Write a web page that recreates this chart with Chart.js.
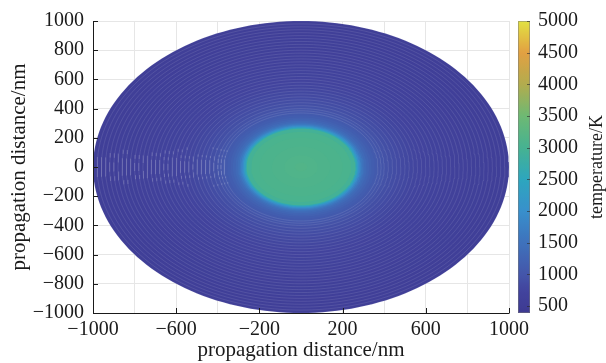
<!DOCTYPE html>
<html><head><meta charset="utf-8">
<script src="https://cdn.jsdelivr.net/npm/chart.js@4.4.1/dist/chart.umd.min.js"></script>
<style>html,body{margin:0;padding:0;background:#fff;overflow:hidden}#wrap{width:606px;height:363px}</style>
</head><body><div id="wrap"><canvas id="c" width="606" height="363"></canvas></div>
<script>
// ---- data ----
const xTickLabels = [-1000, -600, -200, 200, 600, 1000];
const yTickLabels = [-1000, -800, -600, -400, -200, 0, 200, 400, 600, 800, 1000];
const cbTickLabels = [500, 1000, 1500, 2000, 2500, 3000, 3500, 4000, 4500, 5000];
// ring radius (nm, normalised to the ellipse) and temperature (K)
const ringRadius = [1000, 980, 960, 940, 920, 900, 880, 860, 840, 820, 800, 780, 760, 740, 720, 700,
  680, 660, 640, 620, 600, 580, 560, 540, 520, 500, 480, 460, 440, 420, 400, 385, 370, 355, 340, 328,
  316, 306, 298, 290, 283, 276, 269, 262, 240, 200, 140, 80, 30];
const ringTemperature = [560, 565, 570, 575, 580, 590, 595, 600, 610, 615, 620, 630, 640, 650, 660, 670,
  680, 690, 700, 715, 730, 745, 760, 780, 800, 820, 845, 870, 900, 940, 980, 1020, 1070, 1130, 1200, 1270,
  1350, 1450, 1580, 1750, 1950, 2250, 2600, 2950, 3050, 3080, 3100, 3120, 3150];
const cbMin = 390, cbMax = 5000;

// ---- colour map ----
const cmapStops = [
  [400, [62, 58, 146]], [750, [66, 68, 158]], [1000, [68, 86, 170]], [1500, [62, 114, 188]],
  [2000, [56, 144, 204]], [2500, [45, 166, 190]], [3000, [70, 178, 145]], [3500, [110, 185, 115]],
  [4000, [178, 172, 78]], [4500, [226, 160, 66]], [5000, [226, 226, 66]]];
function cmap(t, a) {
  if (t <= cmapStops[0][0]) { const c = cmapStops[0][1]; return `rgba(${c[0]},${c[1]},${c[2]},${a ?? 1})`; }
  for (let i = 1; i < cmapStops.length; i++) {
    if (t <= cmapStops[i][0]) {
      const [t0, c0] = cmapStops[i - 1], [t1, c1] = cmapStops[i];
      const f = (t - t0) / (t1 - t0);
      const c = c0.map((v, k) => Math.round(v + (c1[k] - v) * f));
      return `rgba(${c[0]},${c[1]},${c[2]},${a ?? 1})`;
    }
  }
  const c = cmapStops[cmapStops.length - 1][1];
  return `rgba(${c[0]},${c[1]},${c[2]},${a ?? 1})`;
}

function ringPoints(r) {
  const pts = [];
  for (let d = 0; d <= 360; d += 2) {
    const th = d * Math.PI / 180;
    pts.push({ x: r * Math.cos(th), y: r * Math.sin(th) });
  }
  return pts;
}

const datasets = ringRadius.map((r, i) => ({
  data: ringPoints(r),
  showLine: true,
  fill: 'shape',
  backgroundColor: cmap(ringTemperature[i]),
  borderColor: r > 355 ? 'rgba(255,255,255,0.13)' : cmap(ringTemperature[i]),
  borderWidth: r > 355 ? 0.8 : 0,
  pointRadius: 0,
  pointHoverRadius: 0,
  order: -i   // larger ring drawn first (underneath)
}));

const fmt = v => String(v).replace('-', '\u2212');
const FONT = 'Liberation Serif';
const noVPad = s => { s.paddingTop = 0; s.paddingBottom = 0; };

const decor = {
  id: 'decor',
  afterDraw(chart) {
    const { ctx, chartArea: ca, scales: { x, y, cb } } = chart;
    ctx.save();
    ctx.strokeStyle = '#1a1a1a'; ctx.lineWidth = 1;
    ctx.beginPath();
    ctx.moveTo(ca.left + 0.5, ca.top); ctx.lineTo(ca.left + 0.5, ca.bottom + 0.5);
    ctx.lineTo(ca.right + 0.5, ca.bottom + 0.5);
    xTickLabels.forEach(v => { const p = Math.round(x.getPixelForValue(v)) + 0.5; ctx.moveTo(p, ca.bottom); ctx.lineTo(p, ca.bottom - 5); });
    yTickLabels.forEach(v => { const p = Math.round(y.getPixelForValue(v)) + 0.5; ctx.moveTo(ca.left, p); ctx.lineTo(ca.left + 5, p); });
    ctx.stroke();
    // colour bar
    const bx = cb.left + 9, bw = 12, top = cb.getPixelForValue(cbMax), bot = cb.getPixelForValue(cbMin);
    const g = ctx.createLinearGradient(0, bot, 0, top);
    for (let t = cbMin; t <= cbMax; t += 50) g.addColorStop((t - cbMin) / (cbMax - cbMin), cmap(t));
    ctx.fillStyle = g;
    ctx.fillRect(bx, top, bw, bot - top);
    ctx.strokeStyle = 'rgba(120,120,120,0.5)'; ctx.lineWidth = 1;
    ctx.strokeRect(bx + 0.5, top + 0.5, bw - 1, bot - top - 1);
    ctx.strokeStyle = 'rgba(40,40,40,0.6)';
    ctx.beginPath();
    cbTickLabels.forEach(v => { const p = Math.round(cb.getPixelForValue(v)) + 0.5; ctx.moveTo(bx + bw - 3, p); ctx.lineTo(bx + bw, p); });
    ctx.stroke();
    ctx.fillStyle = '#1a1a1a';
    ctx.font = `18px "${FONT}"`;
    ctx.textAlign = 'center'; ctx.textBaseline = 'middle';
    ctx.translate(597, (ca.top + ca.bottom) / 2);
    ctx.rotate(-Math.PI / 2);
    ctx.fillText('temperature/K', 0, 0);
    ctx.restore();
  }
};

new Chart(document.getElementById('c'), {
  type: 'scatter',
  data: { datasets },
  options: {
    responsive: false, animation: false, devicePixelRatio: 1,
    layout: { padding: { left: 0, right: 25, top: 21, bottom: 0 } },
    plugins: { legend: { display: false }, tooltip: { enabled: false } },
    events: [],
    scales: {
      x: {
        type: 'linear', min: -1000, max: 1000, position: 'bottom',
        afterFit: s => { s.height = 50; s.paddingLeft = 0; s.paddingRight = 0; },
        grid: { color: '#e6e6e6', drawTicks: false },
        border: { display: false },
        ticks: { stepSize: 200, autoSkip: false, maxRotation: 0, padding: 5, color: '#1a1a1a',
          font: { family: FONT, size: 20 },
          callback: v => xTickLabels.includes(v) ? fmt(v) : '' },
        title: { display: true, text: 'propagation distance/nm', color: '#1a1a1a',
          font: { family: FONT, size: 21 }, padding: { top: 0, bottom: 0 } }
      },
      y: {
        type: 'linear', min: -1000, max: 1000, position: 'left',
        afterFit: s => { s.width = 93; noVPad(s); },
        grid: { color: '#e6e6e6', drawTicks: false },
        border: { display: false },
        ticks: { stepSize: 200, autoSkip: false, padding: 9, color: '#1a1a1a',
          font: { family: FONT, size: 20 },
          callback: v => yTickLabels.includes(v) ? fmt(v) : '' },
        title: { display: true, text: 'propagation distance/nm', color: '#1a1a1a',
          font: { family: FONT, size: 21 }, padding: { top: 7, bottom: 0 } }
      },
      cb: {
        type: 'linear', min: cbMin, max: cbMax, position: 'right',
        afterFit: s => { s.width = 72; noVPad(s); },
        afterBuildTicks: s => { s.ticks = cbTickLabels.map(v => ({ value: v })); },
        grid: { display: false, drawTicks: false },
        border: { display: false },
        ticks: { padding: 29, color: '#1a1a1a', font: { family: FONT, size: 20 }, callback: v => String(v) }
      }
    }
  },
  plugins: [decor]
});
</script>
</body></html>
